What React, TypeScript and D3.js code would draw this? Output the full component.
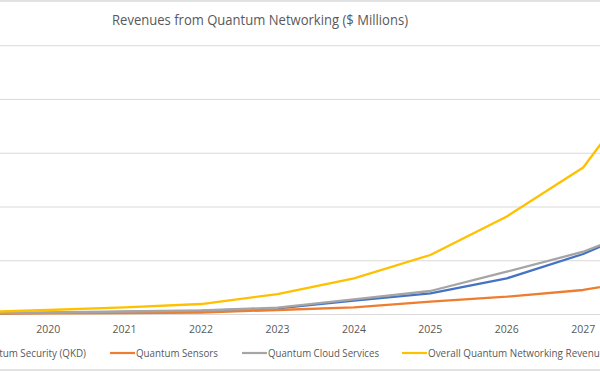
import React from "react";
import * as d3 from "d3";

const years = ["2019", "2020", "2021", "2022", "2023", "2024", "2025", "2026", "2027", "2028"];
const qkd = [18, 32, 50, 69, 115, 257, 394, 673, 1125, 1740];
const sensors = [12, 22, 28, 37, 84, 134, 238, 331, 456, 698];
const cloud = [20, 37, 56, 74, 126, 283, 437, 796, 1168, 1720];
const overall = [40, 84, 134, 195, 381, 673, 1107, 1823, 2734, 4641];
const yTicks = [0, 1000, 2000, 3000, 4000, 5000];

const seriesNames = [
  "Quantum Security (QKD)",
  "Quantum Sensors",
  "Quantum Cloud Services",
  "Overall Quantum Networking Revenues",
];
const seriesValues = [qkd, sensors, cloud, overall];
const colors = ["#4472C4", "#ED7D31", "#A5A5A5", "#FFC000"];

// legend layout: x of line start and text widths
const legendLineX = [-52, 110, 242, 402];
const legendTextW = [112, 82, 111, 182];

const W = 600;
const H = 372;

export default function App() {
  const x = d3.scalePoint<string>().domain(years).range([48.2 - 76.43, 48.2 + 8 * 76.43]);
  const y = d3.scaleLinear().domain([0, 5000]).range([314.5, 45.7]);
  const line = d3
    .line<number>()
    .x((_, i) => x(years[i]) as number)
    .y((d) => y(d));
  const font = "'Open Sans', 'Liberation Sans', sans-serif";
  const visibleYears = years.filter((yr) => {
    const px = x(yr) as number;
    return px - 14 >= 0 && px + 14 <= W;
  });
  return (
    <svg
      width={W}
      height={H}
      style={{ position: "absolute", left: 0, top: 0, background: "#fff" }}
    >
      <rect x={0} y={0} width={W} height={H} fill="#fff" />
      <line x1={0} x2={W} y1={1} y2={1} stroke="#d9d9d9" strokeWidth={1.5} />
      <line x1={0} x2={W} y1={370} y2={370} stroke="#d9d9d9" strokeWidth={1.5} />
      <text
        x={260}
        y={25}
        textAnchor="middle"
        fontFamily={font}
        fontSize={14}
        fill="#595959"
        textLength={296}
        lengthAdjust="spacingAndGlyphs"
      >
        Revenues from Quantum Networking ($ Millions)
      </text>
      {yTicks.map((t) => (
        <line key={t} x1={0} x2={W} y1={y(t)} y2={y(t)} stroke="#d9d9d9" strokeWidth={1} />
      ))}
      {visibleYears.map((yr) => (
        <text
          key={yr}
          x={x(yr)}
          y={333}
          textAnchor="middle"
          fontFamily={font}
          fontSize={10.5}
          fill="#595959"
        >
          {yr}
        </text>
      ))}
      {seriesValues.map((vals, i) => (
        <path
          key={i}
          d={line(vals) || ""}
          fill="none"
          stroke={colors[i]}
          strokeWidth={2.3}
          strokeLinejoin="round"
          strokeLinecap="round"
        />
      ))}
      {seriesNames.map((n, i) => (
        <g key={n}>
          <line
            x1={legendLineX[i]}
            x2={legendLineX[i] + 25}
            y1={353}
            y2={353}
            stroke={colors[i]}
            strokeWidth={2.2}
          />
          <text
            x={legendLineX[i] + 26}
            y={357}
            fontFamily={font}
            fontSize={10}
            fill="#595959"
            textLength={legendTextW[i]}
            lengthAdjust="spacingAndGlyphs"
          >
            {n}
          </text>
        </g>
      ))}
    </svg>
  );
}
